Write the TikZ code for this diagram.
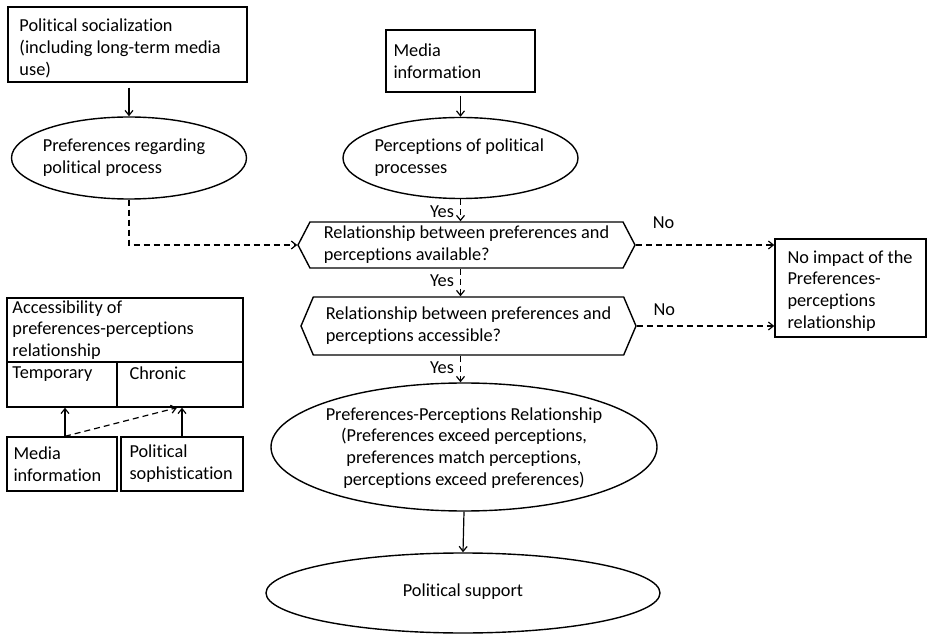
\documentclass[tikz,border=0pt]{standalone}
\usepackage{fontspec}
\setmainfont{Carlito}[Ligatures=NoCommon]
\usetikzlibrary{shapes.geometric,shapes.symbols,arrows.meta}
\begin{document}
\begin{tikzpicture}[x=1pt,y=-1pt,
  every node/.style={font=\fontsize{18.3}{21.8}\selectfont},
  box/.style={draw,line width=1.4pt,rectangle,inner sep=0pt},
  oval/.style={draw,line width=1.4pt,ellipse,inner sep=0pt},
  hex/.style={draw,line width=1.4pt,signal,signal to=west and east,inner sep=0pt,align=flush left},
  txt/.style={inner sep=0pt,align=flush left},
  link/.style={line width=1.2pt,-{Straight Barb[length=5pt,width=8pt]}},
  dlink/.style={link,dash pattern=on 6pt off 4pt},
]
\useasboundingbox (0,0) rectangle (927,636);

% upper left branch: preferences
\node[box,minimum width=239,minimum height=75] (soc) at (127.5,44.5) {};
\node[txt,anchor=west] at ([shift={(12pt,-4pt)}]soc.west)
  {Political socialization\\(including long-term media\\use)};
\node[oval,minimum width=235,minimum height=82] (pref) at (129,158) {};
\node[txt] at ([xshift=-5pt]pref.center) {Preferences regarding\\political process};

% upper middle branch: perceptions
\node[box,minimum width=149,minimum height=62] (media) at (460.5,61) {};
\node[txt,anchor=west] at ([xshift=8pt]media.west) {Media\\information};
\node[oval,minimum width=235,minimum height=81] (perc) at (460.5,158) {};
\node[txt,anchor=west] at ([xshift=32pt]perc.west) {Perceptions of political\\processes};

% decision steps
\node[hex,minimum width=337,minimum height=46,signal pointer angle=125]
  (avail) at (466.5,245) {Relationship between preferences and\\perceptions available?};
\node[hex,minimum width=335,minimum height=58,signal pointer angle=134]
  (access) at (468.5,326) {Relationship between preferences and\\perceptions accessible?};

\node[box,minimum width=151,minimum height=98] (noimp) at (850.5,288) {};
\node[txt,anchor=west] at ([shift={(13pt,-3pt)}]noimp.west)
  {No impact of the\\Preferences-\\perceptions\\relationship};

% outcome
\node[oval,minimum width=386,minimum height=128] (rel) at (464,447) {};
\node[txt,align=center] at ([yshift=-1pt]rel.center) {Preferences-Perceptions Relationship\\(Preferences exceed perceptions,\\preferences match perceptions,\\perceptions exceed preferences)};
\node[oval,minimum width=394,minimum height=80] (supp) at (463,593) {};
\node[txt] at ([yshift=1pt]supp.center) {Political support};

% accessibility panel
\node[box,minimum width=236,minimum height=64] (acc) at (125,330) {};
\node[txt,anchor=west] at ([xshift=6pt]acc.west)
  {Accessibility of\\preferences-perceptions\\relationship};
\node[box,minimum width=110,minimum height=45] (temp) at (62,384.5) {};
\node[txt,anchor=north west] at ([shift={(6pt,-5pt)}]temp.north west) {Temporary};
\node[box,minimum width=126,minimum height=45] (chron) at (180,384.5) {};
\node[txt,anchor=north west] at ([shift={(13pt,-5pt)}]chron.north west) {Chronic};
\node[box,minimum width=110,minimum height=54] (media2) at (62,464) {};
\node[txt,anchor=west] at ([xshift=7pt]media2.west) {Media\\information};
\node[box,minimum width=122,minimum height=54] (soph) at (182,464) {};
\node[txt,anchor=west] at ([xshift=9pt]soph.west) {Political\\sophistication};

% connectors
\draw[link,shorten <=5pt] (pref.north |- soc.south) -- (pref.north);
\draw[link,shorten <=3pt] (perc.north |- media.south) -- (perc.north);
\draw[dlink] (perc.south) -- (perc.south |- avail.north)
  node[txt,pos=0.55,left=6pt] {Yes};
\draw[dlink] (pref.south) |- (avail.west);
\draw[dlink] (perc.south |- avail.south) -- (perc.south |- access.north)
  node[txt,pos=0.45,left=6pt] {Yes};
\draw[dlink] (perc.south |- access.south) -- (perc.south |- rel.north)
  node[txt,pos=0.45,left=6pt] {Yes};
\draw[dlink] (avail.east) -- (avail.east -| noimp.west)
  node[txt,pos=0.2,above=16pt] {No};
\draw[dlink] (access.east) -- (access.east -| noimp.west)
  node[txt,pos=0.2,above=10pt] {No};
\draw[link] (rel.south) -- (supp.north);

\draw[link] ([xshift=3pt]media2.north) -- ([xshift=3pt]temp.south);
\draw[link] (soph.north) -- (soph.north |- chron.south);
\draw[dlink] ([xshift=3pt]media2.north) -- ([xshift=-5pt]soph.north |- chron.south);
\end{tikzpicture}
\end{document}
